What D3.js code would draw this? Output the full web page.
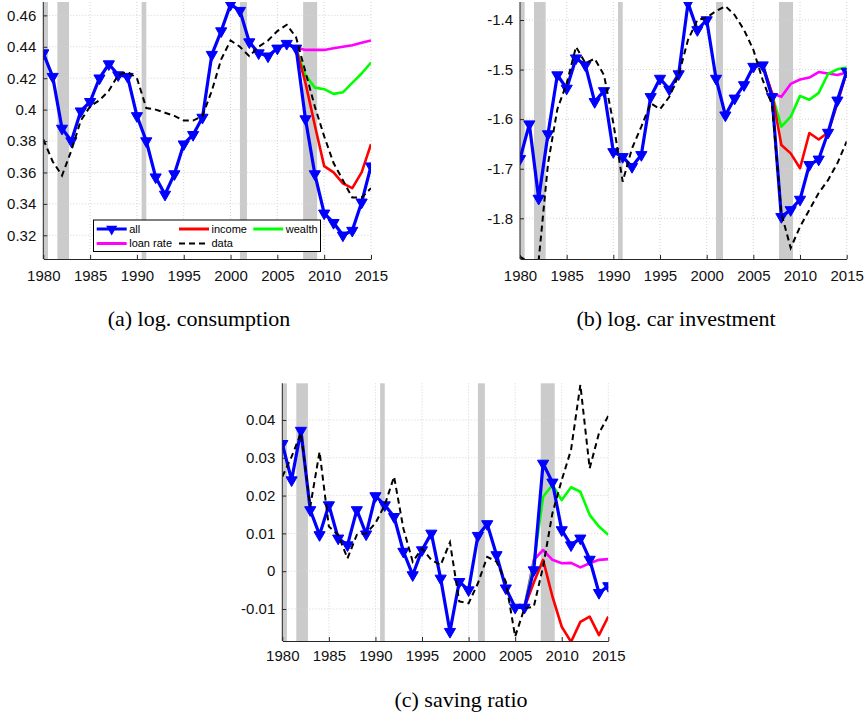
<!DOCTYPE html>
<html>
<head>
<meta charset="utf-8">
<script src="https://cdn.jsdelivr.net/npm/d3@7/dist/d3.min.js"></script>
<style>
  body { margin: 0; background: #fff; }
  svg { display: block; }
</style>
</head>
<body>
<script>
// annual observations 1980-2015
var years = [1980, 1981, 1982, 1983, 1984, 1985, 1986, 1987, 1988, 1989,
             1990, 1991, 1992, 1993, 1994, 1995, 1996, 1997, 1998, 1999,
             2000, 2001, 2002, 2003, 2004, 2005, 2006, 2007, 2008, 2009,
             2010, 2011, 2012, 2013, 2014, 2015];
// counterfactual paths start in 2006
var cfYears = [2006, 2007, 2008, 2009, 2010, 2011, 2012, 2013, 2014, 2015];

// shaded recessions (start, end)
var recessions = [[1980, 1980.5], [1981.5, 1982.75], [1990.5, 1991], [2001, 2001.75], [2007.75, 2009.25]];
var xTicks = [1980, 1985, 1990, 1995, 2000, 2005, 2010, 2015];

// (a) log. consumption
var consAll = [0.436, 0.421, 0.388, 0.380, 0.399, 0.405, 0.420, 0.429, 0.422, 0.421,
               0.396, 0.380, 0.357, 0.346, 0.359, 0.378, 0.384, 0.395, 0.435, 0.450,
               0.467, 0.463, 0.443, 0.436, 0.434, 0.439, 0.442, 0.439, 0.394, 0.359,
               0.334, 0.328, 0.320, 0.323, 0.341, 0.364];
var consData = [0.381, 0.367, 0.358, 0.374, 0.393, 0.402, 0.406, 0.412, 0.422, 0.424,
                0.420, 0.401, 0.400, 0.398, 0.396, 0.393, 0.393, 0.396, 0.412, 0.432,
                0.444, 0.440, 0.434, 0.440, 0.444, 0.450, 0.454, 0.446, 0.424, 0.402,
                0.383, 0.366, 0.355, 0.344, 0.344, 0.350];
var consIncome = [0.442, 0.439, 0.417, 0.390, 0.364, 0.360, 0.353, 0.350, 0.360, 0.378];
var consWealth = [0.442, 0.439, 0.422, 0.414, 0.413, 0.410, 0.411, 0.417, 0.423, 0.430];
var consLoan = [0.442, 0.4395, 0.438, 0.438, 0.438, 0.439, 0.440, 0.441, 0.4425, 0.444];
var consTicks = [0.32, 0.34, 0.36, 0.38, 0.4, 0.42, 0.44, 0.46];

// (b) log. car investment
var carAll = [-1.680, -1.610, -1.760, -1.630, -1.511, -1.538, -1.477, -1.491, -1.565, -1.543,
              -1.666, -1.676, -1.696, -1.672, -1.555, -1.518, -1.540, -1.509, -1.366, -1.420,
              -1.400, -1.518, -1.592, -1.558, -1.531, -1.494, -1.491, -1.555, -1.797, -1.783,
              -1.762, -1.692, -1.681, -1.627, -1.562, -1.504];
var carData = [-1.877, -1.890, -1.885, -1.690, -1.580, -1.528, -1.454, -1.487, -1.478, -1.511,
               -1.608, -1.726, -1.659, -1.615, -1.568, -1.580, -1.555, -1.511, -1.440, -1.400,
               -1.395, -1.382, -1.372, -1.390, -1.420, -1.460, -1.521, -1.571, -1.790, -1.860,
               -1.817, -1.783, -1.749, -1.723, -1.689, -1.645];
var carIncome = [-1.491, -1.548, -1.652, -1.669, -1.699, -1.628, -1.641, -1.627, -1.568, -1.504];
var carWealth = [-1.491, -1.550, -1.615, -1.595, -1.553, -1.561, -1.547, -1.509, -1.4995, -1.496];
var carLoan = [-1.491, -1.548, -1.555, -1.529, -1.520, -1.516, -1.505, -1.508, -1.511, -1.506];
var carTicks = [-1.8, -1.7, -1.6, -1.5, -1.4];

// (c) saving ratio
var saveAll = [0.0337, 0.0241, 0.0372, 0.0162, 0.0096, 0.0175, 0.0087, 0.0069, 0.0162, 0.0098,
               0.0199, 0.0175, 0.0144, 0.0052, -0.0010, 0.0056, 0.0100, -0.0019, -0.0160, -0.0028,
               -0.0050, 0.0094, 0.0125, 0.0043, -0.0045, -0.0096, -0.0096, 0.0003, 0.0285, 0.0235,
               0.0109, 0.0069, 0.0087, 0.0031, -0.0057, -0.0039];
var saveData = [0.0250, 0.0303, 0.0365, 0.0171, 0.0316, 0.0118, 0.0096, 0.0034, 0.0096, 0.0100,
                0.0127, 0.0175, 0.0250, 0.0113, 0.0025, 0.0060, 0.0030, 0.0016, 0.0076, -0.0080,
                -0.0085, -0.0032, 0.0038, 0.0025, -0.0028, -0.0173, -0.0098, -0.0094, 0.0012, 0.0153,
                0.0241, 0.0321, 0.0493, 0.0272, 0.0365, 0.0411];
var saveIncome = [-0.0096, -0.0030, 0.0030, -0.0067, -0.0147, -0.0187, -0.0134, -0.0120, -0.0169, -0.0120];
var saveWealth = [-0.0096, 0.0020, 0.0197, 0.0228, 0.0188, 0.0222, 0.0210, 0.0149, 0.0118, 0.0096];
var saveLoan = [-0.0096, 0.0030, 0.0056, 0.0030, 0.0021, 0.0022, 0.0010, 0.0021, 0.0030, 0.0032];
var saveTicks = [-0.01, 0, 0.01, 0.02, 0.03, 0.04];

var colors = { all: '#0000ff', income: '#ff0000', wealth: '#00ff00', loan: '#ff00ff', data: '#000000' };
var sans = '"Liberation Sans", Arial, Helvetica, sans-serif';
var serif = '"Liberation Serif", "Times New Roman", serif';
var markerSize = 54;

var svg = d3.select('body').append('svg')
    .attr('width', 868)
    .attr('height', 717);

svg.append('rect').attr('width', 868).attr('height', 717).attr('fill', '#fff');

function zip(xs, ys) {
    return xs.map(function (d, i) { return [d, ys[i]]; });
}

function drawPanel(p) {
    var x = d3.scaleLinear().domain([1980, 2015]).range([p.left, p.right]);
    var y = d3.scaleLinear().domain(p.yDomain).range([p.bottom, p.top]);
    var g = svg.append('g');

    g.append('clipPath').attr('id', 'clip-' + p.id)
        .append('rect')
        .attr('x', p.left).attr('y', p.top)
        .attr('width', p.right - p.left).attr('height', p.bottom - p.top);

    // recession shading
    g.selectAll('.rec').data(recessions).enter().append('rect')
        .attr('x', function (d) { return x(d[0]); })
        .attr('width', function (d) { return x(d[1]) - x(d[0]); })
        .attr('y', p.top)
        .attr('height', p.bottom - p.top)
        .attr('fill', '#cbcbcb');

    // dotted grid
    g.selectAll('.vgrid').data(xTicks).enter().append('line')
        .attr('x1', function (d) { return x(d); }).attr('x2', function (d) { return x(d); })
        .attr('y1', p.top).attr('y2', p.bottom)
        .attr('stroke', '#d4d4d4').attr('stroke-dasharray', '1,2');
    g.selectAll('.hgrid').data(p.ticks).enter().append('line')
        .attr('x1', p.left).attr('x2', p.right)
        .attr('y1', function (d) { return y(d); }).attr('y2', function (d) { return y(d); })
        .attr('stroke', '#d4d4d4').attr('stroke-dasharray', '1,2');

    var line = d3.line()
        .x(function (d) { return x(d[0]); })
        .y(function (d) { return y(d[1]); });

    var plot = g.append('g').attr('clip-path', 'url(#clip-' + p.id + ')');

    // counterfactuals
    [[p.loan, colors.loan], [p.wealth, colors.wealth], [p.income, colors.income]].forEach(function (s) {
        plot.append('path')
            .datum(zip(cfYears, s[0]))
            .attr('d', line)
            .attr('fill', 'none')
            .attr('stroke', s[1])
            .attr('stroke-width', 2.6)
            .attr('stroke-linejoin', 'round');
    });

    // all channels with markers
    var allPts = zip(years, p.all);
    plot.append('path')
        .datum(allPts)
        .attr('d', line)
        .attr('fill', 'none')
        .attr('stroke', colors.all)
        .attr('stroke-width', 3.2)
        .attr('stroke-linejoin', 'round');
    plot.selectAll('.mk').data(allPts).enter().append('path')
        .attr('d', d3.symbol().type(d3.symbolTriangle).size(markerSize))
        .attr('transform', function (d) { return 'translate(' + x(d[0]) + ',' + y(d[1]) + ') rotate(180)'; })
        .attr('fill', colors.all)
        .attr('stroke', colors.all)
        .attr('stroke-width', 1);

    // data, dashed
    plot.append('path')
        .datum(zip(years, p.data))
        .attr('d', line)
        .attr('fill', 'none')
        .attr('stroke', colors.data)
        .attr('stroke-width', 2)
        .attr('stroke-dasharray', '6,4');

    // axes
    var xAxis = d3.axisBottom(x)
        .tickValues(xTicks)
        .tickFormat(d3.format('d'))
        .tickSizeInner(-4)
        .tickSizeOuter(0)
        .tickPadding(p.xPad);
    var gx = g.append('g')
        .attr('transform', 'translate(0,' + p.bottom + ')')
        .call(xAxis);

    var yAxis = d3.axisLeft(y)
        .tickValues(p.ticks)
        .tickFormat(function (d) { return String(d); })
        .tickSizeInner(-4)
        .tickSizeOuter(0)
        .tickPadding(7);
    var gy = g.append('g')
        .attr('transform', 'translate(' + p.left + ',0)')
        .call(yAxis);

    [gx, gy].forEach(function (a) {
        a.select('.domain').attr('stroke', '#262626').attr('stroke-width', 1);
        a.selectAll('.tick line').attr('stroke', '#262626');
        a.selectAll('.tick text')
            .attr('fill', '#111')
            .style('font-family', sans)
            .style('font-size', '15px');
    });
    // plot area starts at the top edge, y-axis line runs to it
    gy.select('.domain').attr('d', 'M0,' + p.top + 'V' + p.bottom);

    // caption
    svg.append('text')
        .attr('x', p.capX)
        .attr('y', p.capY)
        .attr('text-anchor', 'middle')
        .style('font-family', serif)
        .style('font-size', '22px')
        .attr('fill', '#000')
        .text(p.caption);

    return { x: x, y: y };
}

drawPanel({
    id: 'a', left: 43.3, right: 371, top: 2, bottom: 259,
    yDomain: [0.3049, 0.4685], ticks: consTicks, xPad: 11,
    all: consAll, data: consData, income: consIncome, wealth: consWealth, loan: consLoan,
    caption: '(a) log. consumption', capX: 199, capY: 326
});

drawPanel({
    id: 'b', left: 520, right: 846.7, top: 2, bottom: 259,
    yDomain: [-1.8821, -1.3637], ticks: carTicks, xPad: 11,
    all: carAll, data: carData, income: carIncome, wealth: carWealth, loan: carLoan,
    caption: '(b) log. car investment', capX: 676, capY: 326
});

drawPanel({
    id: 'c', left: 282.3, right: 608.3, top: 383.3, bottom: 641,
    yDomain: [-0.01847, 0.0497], ticks: saveTicks, xPad: 9,
    all: saveAll, data: saveData, income: saveIncome, wealth: saveWealth, loan: saveLoan,
    caption: '(c) saving ratio', capX: 461, capY: 707
});

// legend for panel (a)
var legend = svg.append('g');
legend.append('rect')
    .attr('x', 93.5).attr('y', 220)
    .attr('width', 227).attr('height', 31.5)
    .attr('fill', '#fff')
    .attr('stroke', '#000')
    .attr('stroke-width', 1);

var legendItems = [
    { label: 'all', color: colors.all, col: 0, row: 0, marker: true },
    { label: 'income', color: colors.income, col: 1, row: 0 },
    { label: 'wealth', color: colors.wealth, col: 2, row: 0 },
    { label: 'loan rate', color: colors.loan, col: 0, row: 1 },
    { label: 'data', color: colors.data, col: 1, row: 1, dashed: true }
];
var colX = [96.7, 179, 253.3];
var rowY = [229, 243.5];

var items = legend.selectAll('.item').data(legendItems).enter().append('g');
items.append('line')
    .attr('x1', function (d) { return colX[d.col]; })
    .attr('x2', function (d) { return colX[d.col] + 30; })
    .attr('y1', function (d) { return rowY[d.row]; })
    .attr('y2', function (d) { return rowY[d.row]; })
    .attr('stroke', function (d) { return d.color; })
    .attr('stroke-width', function (d) { return d.dashed ? 2 : 3; })
    .attr('stroke-dasharray', function (d) { return d.dashed ? '6,4' : null; });
items.filter(function (d) { return d.marker; }).append('path')
    .attr('d', d3.symbol().type(d3.symbolTriangle).size(markerSize))
    .attr('transform', function (d) { return 'translate(' + (colX[d.col] + 15) + ',' + rowY[d.row] + ') rotate(180)'; })
    .attr('fill', colors.all);
items.append('text')
    .attr('x', function (d) { return colX[d.col] + 32.5; })
    .attr('y', function (d) { return rowY[d.row]; })
    .attr('dy', '0.35em')
    .style('font-family', sans)
    .style('font-size', '11px')
    .attr('fill', '#000')
    .text(function (d) { return d.label; });
</script>
</body>
</html>
